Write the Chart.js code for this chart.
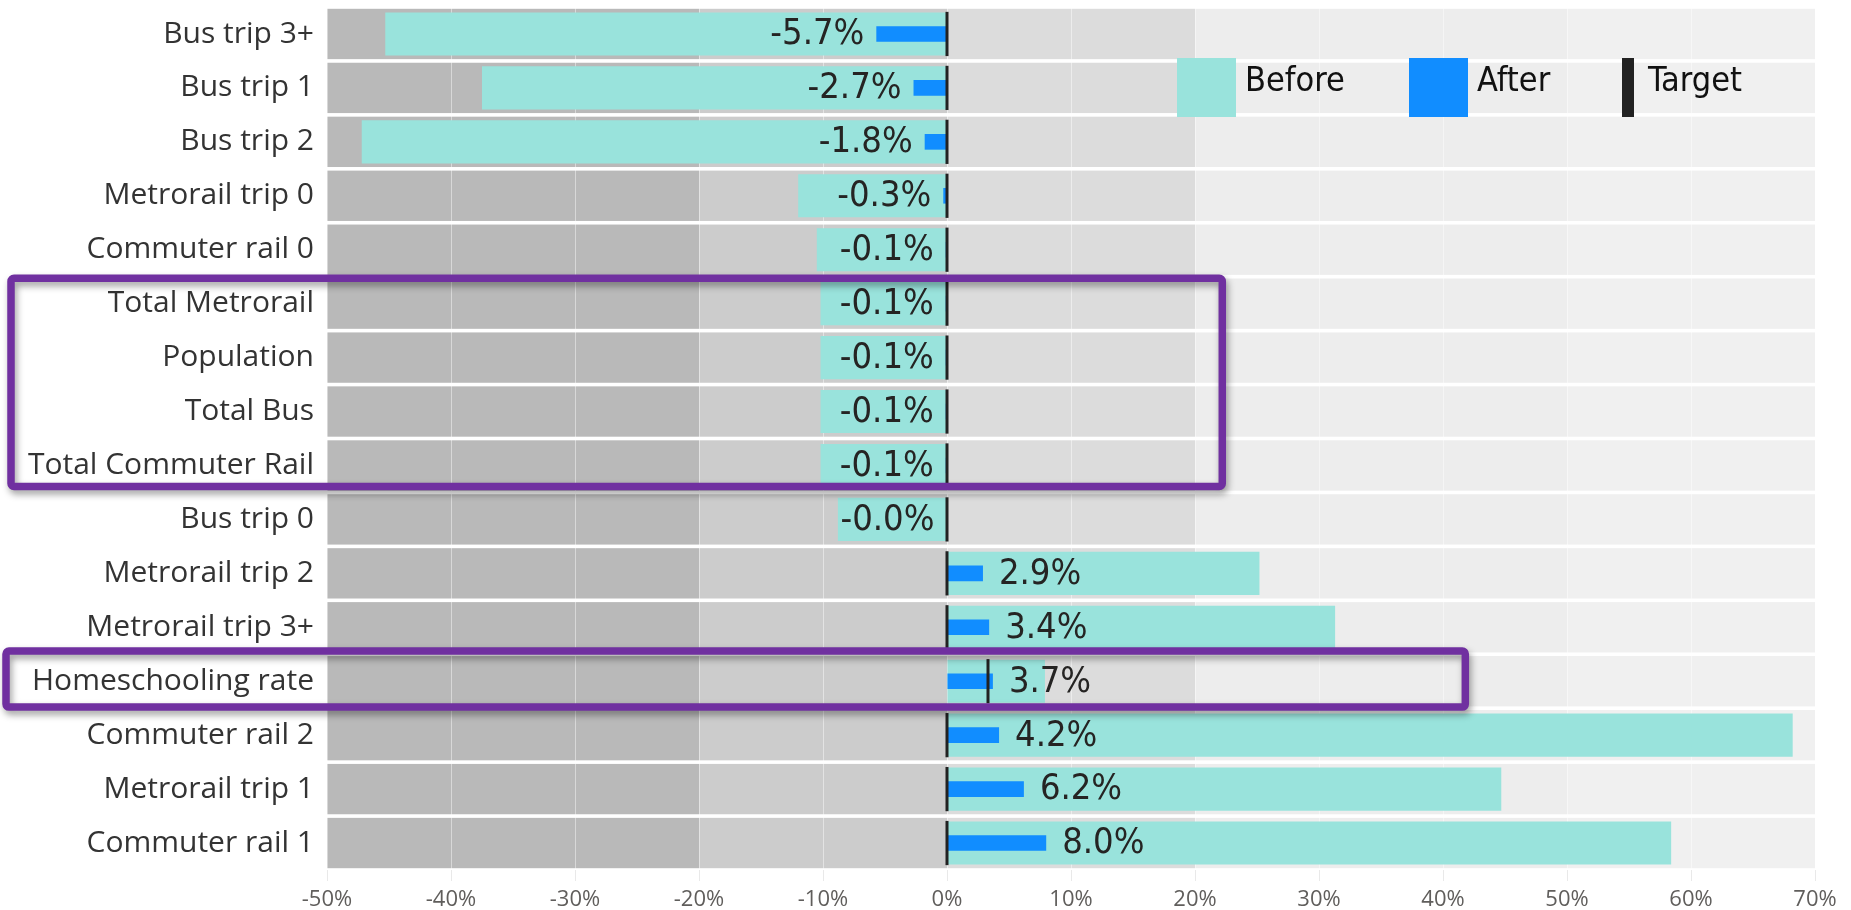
<!DOCTYPE html>
<html>
<head>
<meta charset="utf-8">
<title>Before / After vs Target</title>
<script src="https://cdn.jsdelivr.net/npm/chart.js@4.4.1/dist/chart.umd.min.js"></script>
<style>
  html, body { margin: 0; padding: 0; background: #ffffff; }
  #wrap { width: 1851px; height: 910px; position: relative; }
</style>
</head>
<body>
<div id="wrap"><canvas id="chart"></canvas></div>
<script>
// ---- data ----
const categories = [
  'Bus trip 3+', 'Bus trip 1', 'Bus trip 2', 'Metrorail trip 0', 'Commuter rail 0',
  'Total Metrorail', 'Population', 'Total Bus', 'Total Commuter Rail', 'Bus trip 0',
  'Metrorail trip 2', 'Metrorail trip 3+', 'Homeschooling rate', 'Commuter rail 2',
  'Metrorail trip 1', 'Commuter rail 1'
];
const beforeValues = [-45.3, -37.5, -47.2, -12.0, -10.5, -10.2, -10.2, -10.2, -10.2, -8.8,
                      25.2, 31.3, 7.9, 68.2, 44.7, 58.4];
const afterValues  = [-5.7, -2.7, -1.8, -0.3, -0.1, -0.1, -0.1, -0.1, -0.1, -0.04,
                      2.9, 3.4, 3.7, 4.2, 6.2, 8.0];
const targetValues = [0, 0, 0, 0, 0, 0, 0, 0, 0, 0, 0, 0, 3.3, 0, 0, 0];
const seriesNames  = ['Before', 'After', 'Target'];

// qualitative background ranges (x-axis units, %)
const bandEdges = [-50, -20, 0, 20, 50, 70];
const xMin = -50, xMax = 70, xStep = 10;

// highlighted row groups: first row, last row, right end (x units)
const highlightGroups = [
  { from: 5, to: 8, xEnd: 22.2 },
  { from: 12, to: 12, xEnd: 41.8 }
];

// ---- styles ----
const bandColors   = ['#b9b9b9', '#cccccc', '#dcdcdc', '#ededed', '#f0f0f0'];
const beforeColor  = '#99e3dc';
const afterColor   = '#118dff';
const targetColor  = '#222222';
const highlightColor = '#7030a0';
const condensed = '"DejaVu Sans Condensed", "Liberation Sans Narrow", sans-serif';

const fmtPct = v => v.toFixed(1) + '%';

function rowPitch(y) {
  return y.getPixelForValue(1) - y.getPixelForValue(0);
}

// row background bands
const bandsPlugin = {
  id: 'bands',
  beforeDraw(chart) {
    const { ctx, scales: { x, y } } = chart;
    const pitch = rowPitch(y);
    const half = pitch / 2 - 1.8;
    ctx.save();
    categories.forEach((c, i) => {
      const py = y.getPixelForValue(i);
      for (let j = 0; j < bandColors.length; j++) {
        const x0 = x.getPixelForValue(bandEdges[j]);
        const x1 = x.getPixelForValue(bandEdges[j + 1]);
        ctx.fillStyle = bandColors[j];
        ctx.fillRect(x0, py - half, x1 - x0, half * 2);
      }
    });
    ctx.restore();
  }
};

// target markers and value labels
const overlayPlugin = {
  id: 'overlay',
  afterDatasetsDraw(chart) {
    const { ctx, scales: { x, y } } = chart;
    const pitch = rowPitch(y);
    ctx.save();
    ctx.fillStyle = targetColor;
    targetValues.forEach((t, i) => {
      const px = x.getPixelForValue(t);
      const py = y.getPixelForValue(i);
      const h = pitch * 0.82;
      ctx.fillRect(Math.round(px) - 1.5, py - h / 2, 3, h);
    });
    ctx.fillStyle = '#252423';
    ctx.font = '36px ' + condensed;
    ctx.textBaseline = 'middle';
    afterValues.forEach((v, i) => {
      const px = x.getPixelForValue(v);
      const py = y.getPixelForValue(i) + 1;
      if (v < 0) {
        ctx.textAlign = 'right';
        ctx.fillText(fmtPct(v), px - 12, py);
      } else {
        ctx.textAlign = 'left';
        ctx.fillText(fmtPct(v), px + 16, py);
      }
    });
    ctx.restore();
  }
};

// legend in the top-right corner of the plot
const legendPlugin = {
  id: 'cornerLegend',
  afterDatasetsDraw(chart) {
    const { ctx } = chart;
    const top = 58, size = 59;
    const items = [
      { x: 1177, w: size, color: beforeColor, text: seriesNames[0] },
      { x: 1409, w: size, color: afterColor, text: seriesNames[1] },
      { x: 1622, w: 12, color: targetColor, text: seriesNames[2] }
    ];
    ctx.save();
    ctx.font = '34px ' + condensed;
    ctx.textBaseline = 'alphabetic';
    ctx.textAlign = 'left';
    items.forEach(it => {
      ctx.fillStyle = it.color;
      ctx.fillRect(it.x, top, it.w, size);
      ctx.fillStyle = '#111111';
      ctx.fillText(it.text, it.x + it.w + (it.w > 20 ? 9 : 14), top + 33);
    });
    ctx.restore();
  }
};

// purple outlines around row groups
const highlightPlugin = {
  id: 'highlights',
  afterDraw(chart) {
    const { ctx, scales: { x, y } } = chart;
    const pitch = rowPitch(y);
    ctx.save();
    ctx.strokeStyle = highlightColor;
    ctx.lineWidth = 7.5;
    ctx.lineJoin = 'round';
    ctx.shadowColor = 'rgba(0,0,0,0.38)';
    ctx.shadowBlur = 7;
    ctx.shadowOffsetX = 2;
    ctx.shadowOffsetY = 4;
    highlightGroups.forEach(g => {
      const single = g.from === g.to;
      const top = y.getPixelForValue(g.from) - pitch * (single ? 0.56 : 0.47);
      const bottom = y.getPixelForValue(g.to) + pitch * (single ? 0.48 : 0.39);
      const left = single ? 6 : 11;
      const right = x.getPixelForValue(g.xEnd);
      ctx.beginPath();
      ctx.roundRect(left, top, right - left, bottom - top, 3);
      ctx.stroke();
    });
    ctx.restore();
  }
};

new Chart(document.getElementById('chart'), {
  type: 'bar',
  data: {
    labels: categories,
    datasets: [
      {
        label: seriesNames[1],
        data: afterValues,
        backgroundColor: afterColor,
        grouped: false,
        categoryPercentage: 1,
        barPercentage: 0.29,
        order: 1
      },
      {
        label: seriesNames[0],
        data: beforeValues,
        backgroundColor: beforeColor,
        grouped: false,
        categoryPercentage: 1,
        barPercentage: 0.8,
        order: 2
      }
    ]
  },
  options: {
    indexAxis: 'y',
    responsive: true,
    maintainAspectRatio: false,
    animation: false,
    devicePixelRatio: 1,
    layout: { padding: { top: 7, right: 36, left: 0, bottom: 0 } },
    plugins: {
      legend: { display: false },
      tooltip: { enabled: false }
    },
    scales: {
      x: {
        type: 'linear',
        min: xMin,
        max: xMax,
        afterFit(scale) { scale.height = 40; },
        border: { display: false },
        grid: {
          color: 'rgba(255,255,255,0.45)',
          lineWidth: 1,
          drawTicks: true,
          tickLength: 11,
          tickColor: '#e9e9e9'
        },
        ticks: {
          stepSize: xStep,
          padding: 6,
          color: '#605e5c',
          font: { family: '"Open Sans", "Noto Sans", sans-serif', size: 22 },
          callback: v => v + '%'
        }
      },
      y: {
        type: 'category',
        afterFit(scale) {
          scale.width = 327;
          scale.paddingTop = 0;
          scale.paddingBottom = 0;
        },
        border: { display: false },
        grid: { display: false, drawTicks: false },
        ticks: {
          padding: 13,
          color: '#333333',
          font: { family: '"Open Sans", "Noto Sans", sans-serif', size: 30 }
        }
      }
    }
  },
  plugins: [bandsPlugin, overlayPlugin, legendPlugin, highlightPlugin]
});
</script>
</body>
</html>
